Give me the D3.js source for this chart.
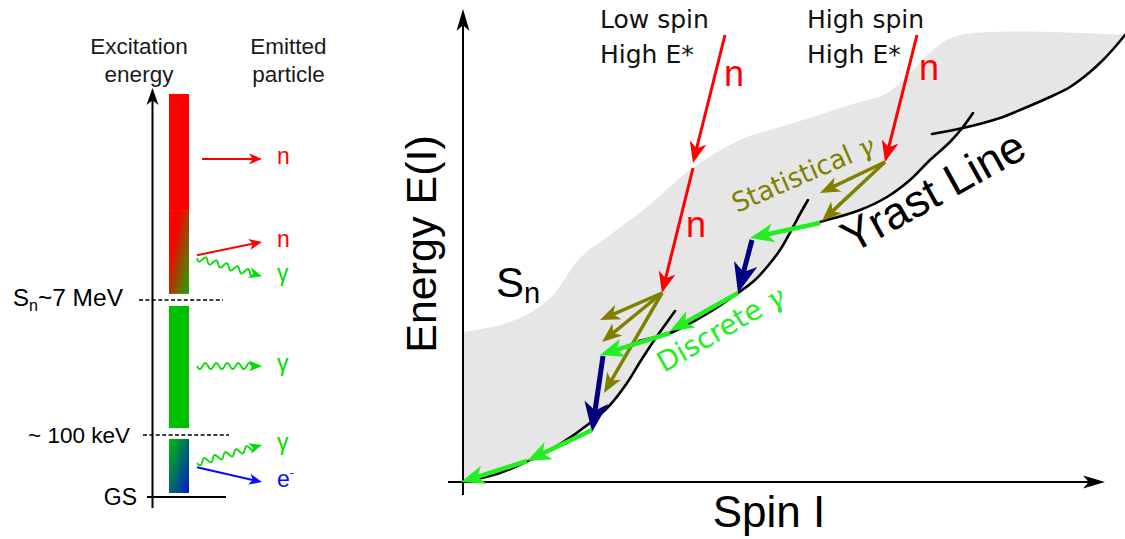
<!DOCTYPE html>
<html><head><meta charset="utf-8">
<script src="https://cdn.jsdelivr.net/npm/d3@7"></script>
<style>body{margin:0;background:#fff}svg{display:block}</style>
</head><body>
<svg id="c" width="1125" height="539"></svg>
<script>
// ================= DATA (schematic units) =================
// Left panel: excitation energy (0 = ground state, 100 = top of scale)
const levelNames = ["GS", "~ 100 keV", "Sn~7 MeV"];
const levelEnergies = [0, 15.4, 48.9];
const barLow  = [1.0, 17.1, 50.4, 71.2];
const barHigh = [14.4, 47.4, 71.2, 100];
const barFills = ["url(#gGB)", "#00c000", "url(#gRG)", "#ff0000"];
const emitKinds  = ["n", "n", "γ", "γ", "γ", "e"];
const emitStartE = [83.9, 60.0, 59.3, 32.5, 8.4, 7.4];
const emitEndE   = [83.9, 63.3, 54.8, 32.5, 12.9, 3.7];

// Right panel: spin I (x) vs energy E(I) (y)
const snBoundary = [[0,15.0],[3.7,15.7],[6.7,16.9],[9.0,18.7],[11.7,22.4],[14.7,24.7],[18.4,27.5],[22.7,31.2],[27.7,34.2],[31.7,35.5],[35.0,36.5],[38.7,37.7],[42.4,38.9],[45.0,41.2],[47.0,43.2],[49.7,44.7],[66.2,44.7]];
const band1 = [[0,0],[3.7,0.9],[6.7,2.2],[9.7,3.8],[12.7,5.9],[14.7,7.7],[16.4,9.9],[17.7,12.0],[19.0,14.0],[20.2,15.7],[21.2,17.1]];
const band2 = [[17.6,14.1],[20.7,14.9],[22.4,15.7],[24.7,17.0],[27.5,18.9],[29.2,20.2],[30.4,21.5],[31.7,23.2],[33.0,25.5],[33.7,26.8],[34.5,28.2]];
const band3 = [[32.6,25.2],[35.7,26.0],[39.7,27.2],[42.4,28.5],[44.7,30.2],[46.7,32.2],[48.7,34.0],[50.0,35.5],[51.0,36.9]];
const band4 = [[46.9,34.8],[50.0,35.4],[53.7,36.4],[55.7,37.2],[58.7,38.5],[60.7,39.5],[62.7,41.0],[64.0,42.2],[65.2,43.5],[66.2,44.7]];
const bandCrossings = [[19.4,14.6],[32.85,25.25],[50.0,35.45]];
const neutronSteps = [[[26.2,44.7],[23.0,31.9]], [[23.0,31.4],[19.9,18.9]], [[45.4,44.7],[42.2,32.0]]];
const statisticalSteps = [[[19.9,18.9],[13.7,16.2]], [[19.9,18.9],[13.9,14.0]], [[19.9,18.9],[14.1,8.9]], [[42.2,32.0],[35.7,28.9]], [[42.2,32.0],[35.9,26.1]]];
const collectiveSteps = [[[28.9,24.2],[27.5,18.9]], [[14.0,12.6],[12.9,5.0]]];
const discreteSteps = [[[35.7,25.9],[28.7,24.4]], [[27.5,18.9],[20.7,15.1]], [[20.7,14.9],[13.7,12.7]], [[12.9,5.2],[6.4,2.1]], [[6.4,2.1],[-0.2,0]]];

// ================= DRAWING =================
const svg = d3.select("#c");
const defs = svg.append("defs");
function grad(id, stops) {
  const g = defs.append("linearGradient").attr("id", id)
    .attr("x1", 0).attr("y1", 0).attr("x2", 1).attr("y2", 1);
  stops.forEach(s => g.append("stop").attr("offset", s[0]).attr("stop-color", s[1]));
}
grad("gRG", [[0, "#ff0000"], [0.3, "#f80200"], [1, "#18ac00"]]);
grad("gGB", [[0, "#00c000"], [1, "#0018d0"]]);

const SANS = "'Liberation Sans', Arial, sans-serif";
const DJV = "'DejaVu Sans', sans-serif";

function arrowHead(g, b, u, color, L, H, notch) {
  const n = [-u[1], u[0]];
  const base = [b[0] - u[0] * L, b[1] - u[1] * L];
  const w1 = [base[0] + n[0] * H, base[1] + n[1] * H];
  const w2 = [base[0] - n[0] * H, base[1] - n[1] * H];
  const m = [b[0] - u[0] * L * notch, b[1] - u[1] * L * notch];
  g.append("path").attr("d", `M${b}L${w1}L${m}L${w2}Z`).attr("fill", color);
}
function arrow(g, a, b, color, w, L, H, notch = 0.72) {
  const dx = b[0] - a[0], dy = b[1] - a[1], len = Math.hypot(dx, dy);
  const u = [dx / len, dy / len];
  const e = [b[0] - u[0] * L * 0.65, b[1] - u[1] * L * 0.65];
  g.append("line").attr("x1", a[0]).attr("y1", a[1]).attr("x2", e[0]).attr("y2", e[1])
    .attr("stroke", color).attr("stroke-width", w);
  arrowHead(g, b, u, color, L, H, notch);
}
function wavy(g, a, b, color, w, L, H, amp, wl) {
  const dx = b[0] - a[0], dy = b[1] - a[1], len = Math.hypot(dx, dy);
  const u = [dx / len, dy / len], n = [-u[1], u[0]];
  const total = len - L * 0.65, pts = [];
  for (let t = 0; t <= total; t += 0.5) {
    const s = amp * Math.sin(2 * Math.PI * t / wl);
    pts.push([a[0] + u[0] * t + n[0] * s, a[1] + u[1] * t + n[1] * s]);
  }
  g.append("path").attr("d", d3.line()(pts)).attr("fill", "none")
    .attr("stroke", color).attr("stroke-width", w);
  arrowHead(g, b, u, color, L, H, 0.72);
}

// ---------- Left panel ----------
const yL = d3.scaleLinear().domain([0, 100]).range([497, 94]);
const L = svg.append("g");
L.selectAll("rect.bar").data(barLow).enter().append("rect")
  .attr("x", 169).attr("width", 20)
  .attr("y", (d, i) => yL(barHigh[i])).attr("height", (d, i) => yL(d) - yL(barHigh[i]))
  .attr("fill", (d, i) => barFills[i]);
L.append("line").attr("x1", 152.5).attr("x2", 152.5).attr("y1", yL(-2.7)).attr("y2", yL(101.5) + 12)
  .attr("stroke", "#000").attr("stroke-width", 2);
arrowHead(L, [152.5, yL(101.5)], [0, -1], "#000", 17, 6, 0.72);
const levelX0 = [147, 143, 139], levelX1 = [226, 229, 223];
levelEnergies.forEach((E, i) => {
  L.append("line").attr("x1", levelX0[i]).attr("x2", levelX1[i]).attr("y1", yL(E)).attr("y2", yL(E))
    .attr("stroke", "#000").attr("stroke-width", i === 0 ? 2.2 : 1.6)
    .attr("stroke-dasharray", i === 0 ? null : "4,2.4");
});
L.append("text").attr("x", 137).attr("y", yL(levelEnergies[0]) + 8).attr("text-anchor", "end")
  .attr("font-family", SANS).attr("font-size", 23).text(levelNames[0]);
L.append("text").attr("x", 130).attr("y", yL(levelEnergies[1]) + 8).attr("text-anchor", "end")
  .attr("font-family", SANS).attr("font-size", 22.5).text(levelNames[1]);
const sn = L.append("text").attr("x", 123).attr("y", yL(levelEnergies[2]) + 6).attr("text-anchor", "end")
  .attr("font-family", SANS).attr("font-size", 24.5);
sn.append("tspan").text("S");
sn.append("tspan").attr("font-size", 16).attr("dy", 5).text("n");
sn.append("tspan").attr("dy", -5).text("~7 MeV");
[["Excitation", 139, 54], ["energy", 139, 82], ["Emitted", 288.5, 54], ["particle", 288.5, 82]].forEach(t => {
  L.append("text").attr("x", t[1]).attr("y", t[2]).attr("text-anchor", "middle")
    .attr("font-family", SANS).attr("font-size", 22.5).attr("fill", "#1a1a1a").text(t[0]);
});
const kindColor = { n: "#ff0000", "γ": "#00dd00", e: "#0a0aff" };
emitKinds.forEach((k, i) => {
  const a = [k === "n" && i === 0 ? 202 : 197, yL(emitStartE[i])], b = [262, yL(emitEndE[i])];
  if (k === "γ") wavy(L, a, b, kindColor[k], 1.8, 13, 5.5, 3, 11);
  else arrow(L, a, b, kindColor[k], 2, 13, 5.5);
  const t = L.append("text").attr("x", 277).attr("y", yL(emitEndE[i]) + 5)
    .attr("font-family", SANS).attr("font-size", 23).attr("fill", kindColor[k]);
  if (k === "e") { t.append("tspan").text("e"); t.append("tspan").attr("font-size", 12).attr("dy", -10).text("-"); }
  else t.text(k);
});

// ---------- Right panel ----------
const x = d3.scaleLinear().domain([0, 64.2]).range([463, 1105]);
const y = d3.scaleLinear().domain([0, 47.3]).range([482, 9]);
const R = svg.append("g");
const curve = d3.line().x(d => x(d[0])).y(d => y(d[1])).curve(d3.curveCatmullRom.alpha(0.5));
const env = [].concat(
  band1.filter(d => d[0] < bandCrossings[0][0]), [bandCrossings[0]],
  band2.filter(d => d[0] > bandCrossings[0][0] && d[0] < bandCrossings[1][0]), [bandCrossings[1]],
  band3.filter(d => d[0] > bandCrossings[1][0] && d[0] < bandCrossings[2][0]), [bandCrossings[2]],
  band4.filter(d => d[0] > bandCrossings[2][0])
);
const envRev = env.slice().reverse();
R.append("path").attr("d", curve(snBoundary) + "L" + curve(envRev).substring(1) + "Z")
  .attr("fill", "#e6e6e6");
[band1, band2, band3, band4].forEach(b => {
  R.append("path").attr("d", curve(b)).attr("fill", "none").attr("stroke", "#000")
    .attr("stroke-width", 2.6).attr("stroke-linecap", "round");
});
R.append("line").attr("x1", x(0)).attr("x2", x(0)).attr("y1", y(-1.3)).attr("y2", y(47.3) + 14)
  .attr("stroke", "#000").attr("stroke-width", 2);
arrowHead(R, [x(0), y(47.3)], [0, -1], "#000", 22, 6.5, 0.74);
R.append("line").attr("x1", x(-1.5)).attr("x2", x(64.2) - 14).attr("y1", y(0)).attr("y2", y(0))
  .attr("stroke", "#000").attr("stroke-width", 2);
arrowHead(R, [x(64.2), y(0)], [1, 0], "#000", 22, 6.5, 0.74);
const P = d => [x(d[0]), y(d[1])];
statisticalSteps.forEach(s => arrow(R, P(s[0]), P(s[1]), "#808000", 3.5, 20, 8));
neutronSteps.forEach(s => arrow(R, P(s[0]), P(s[1]), "#ff0000", 3, 21, 8.5));
collectiveSteps.forEach(s => arrow(R, P(s[0]), P(s[1]), "#000080", 5, 30, 12));
discreteSteps.forEach(s => arrow(R, P(s[0]), P(s[1]), "#22ee22", 4.5, 24, 9.5));
R.append("text").attr("transform", `translate(436,244) rotate(-90)`).attr("text-anchor", "middle")
  .attr("font-family", SANS).attr("font-size", 43).text("Energy E(I)");
R.append("text").attr("x", 769).attr("y", 527).attr("text-anchor", "middle")
  .attr("font-family", SANS).attr("font-size", 44).text("Spin I");
const snT = R.append("text").attr("x", 496).attr("y", 297).attr("font-family", SANS).attr("font-size", 42);
snT.append("tspan").text("S");
snT.append("tspan").attr("font-size", 29).attr("dy", 6).text("n");
[["Low spin", 600, 28], ["High E*", 600, 63], ["High spin", 807, 28], ["High E*", 807, 63]].forEach(t => {
  R.append("text").attr("x", t[1]).attr("y", t[2]).attr("font-family", DJV).attr("font-size", 25)
    .attr("fill", "#111").text(t[0]);
});
[[27.1, 39.6], [23.3, 24.5], [46.6, 40.2]].forEach(p => {
  R.append("text").attr("x", x(p[0])).attr("y", y(p[1])).attr("text-anchor", "middle")
    .attr("font-family", SANS).attr("font-size", 36).attr("fill", "#ff0000").text("n");
});
R.append("text").attr("transform", "translate(852,254) rotate(-29)")
  .attr("font-family", SANS).attr("font-size", 45).text("Yrast Line");
const st = R.append("text").attr("transform", "translate(737,213) rotate(-23.5)")
  .attr("font-family", DJV).attr("font-size", 27).attr("fill", "#808000")
  .attr("textLength", 152).attr("lengthAdjust", "spacingAndGlyphs");
st.append("tspan").text("Statistical ");
st.append("tspan").attr("font-family", "'DejaVu Serif', serif").attr("font-style", "italic").text("γ");
const dt = R.append("text").attr("transform", "translate(664,373) rotate(-30)")
  .attr("font-family", DJV).attr("font-size", 28).attr("fill", "#22ee22")
  .attr("textLength", 142).attr("lengthAdjust", "spacingAndGlyphs");
dt.append("tspan").text("Discrete ");
dt.append("tspan").attr("font-family", "'DejaVu Serif', serif").attr("font-style", "italic").text("γ");
</script>
</body></html>
